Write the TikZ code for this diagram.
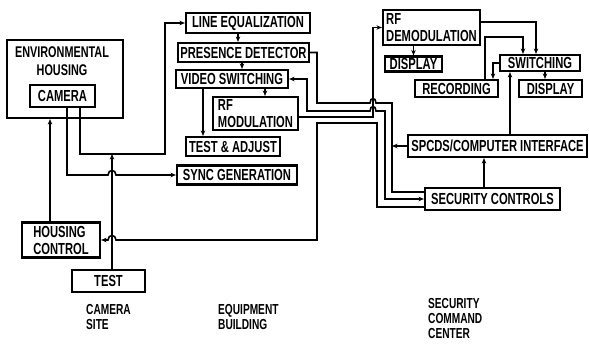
\documentclass[tikz,border=0pt]{standalone}
\usepackage{fontspec}
\setmainfont{Liberation Sans}[FakeStretch=0.7]
\usetikzlibrary{arrows.meta}
\begin{document}
\begin{tikzpicture}[x=1pt,y=-1pt,
  box/.style={draw, line width=2.2pt, inner sep=1pt, font=\bfseries\fontsize{16}{17}\selectfont},
  conn/.style={line width=1.6pt},
  arr/.style={conn, -{Stealth[length=5.5pt,width=4.5pt]}},
  darr/.style={conn, {Stealth[length=5.5pt,width=4.5pt]}-{Stealth[length=5.5pt,width=4.5pt]}},
  lbl/.style={font=\bfseries\fontsize{14.5}{15}\selectfont, align=left, inner sep=0pt, anchor=north west},
  ttl/.style={font=\bfseries\fontsize{15.5}{18}\selectfont, align=center, inner sep=0pt}
]
\useasboundingbox (0,0) rectangle (589,343);

% camera site
\node[box, minimum width=116pt, minimum height=78pt] (env) at (65,79) {};
\node[ttl] (envt) at (62,61) {ENVIRONMENTAL\\HOUSING};
\node[box, minimum width=65pt, minimum height=22pt] (cam) at (62.5,96) {CAMERA};
\node[box, minimum width=78pt, minimum height=35pt, align=left] (hc) at (61,240) {HOUSING\\CONTROL};
\node[box, minimum width=73pt, minimum height=22pt] (test) at (108.5,281) {TEST};

% equipment building
\node[box, minimum width=124pt, minimum height=20pt] (le) at (248,23) {LINE EQUALIZATION};
\node[box, minimum width=131pt, minimum height=19pt] (pd) at (243.5,52.5) {PRESENCE DETECTOR};
\node[box, minimum width=112pt, minimum height=18pt] (vs) at (232,79) {VIDEO SWITCHING};
\node[box, minimum width=85pt, minimum height=33pt, align=left] (rfm) at (255.5,113.5) {RF\\MODULATION};
\node[box, minimum width=94pt, minimum height=19pt] (ta) at (233,146.5) {TEST \& ADJUST};
\node[box, minimum width=120pt, minimum height=19pt] (sync) at (237,175) {SYNC GENERATION};

% security command center
\node[box, minimum width=97pt, minimum height=35pt, align=left] (rfd) at (431.5,27.5) {RF\\DEMODULATION};
\node[box, minimum width=57pt, minimum height=15pt] (d1) at (413.5,64) {DISPLAY};
\node[box, minimum width=80pt, minimum height=16pt] (sw) at (540,63) {SWITCHING};
\node[box, minimum width=83pt, minimum height=17pt] (rec) at (456.5,88.5) {RECORDING};
\node[box, minimum width=63pt, minimum height=17pt] (d2) at (550.5,88.5) {DISPLAY};
\node[box, minimum width=179pt, minimum height=22pt] (spc) at (497.5,146) {SPCDS/COMPUTER INTERFACE};
\node[box, minimum width=135pt, minimum height=22pt] (sec) at (492.5,199) {SECURITY CONTROLS};

% labels
\node[lbl] (cs) at (86,304) {CAMERA\\SITE};
\node[lbl] (eb) at (218,304) {EQUIPMENT\\BUILDING};
\node[lbl] (scc) at (428,298) {SECURITY\\COMMAND\\CENTER};

% camera site connectors
\coordinate (a1) at (165,154);
\coordinate (a2) at (112,154);
\draw[arr] ([xshift=17.5pt]cam.south) |- (a1) |- (le.west);
\draw[arr] ([xshift=4.5pt]cam.south) |- (108,175) .. controls (108,169) and (116,169) .. (116,175) -- (sync.west);
\draw[arr] ([xshift=3.5pt]test.north) -- (a2);
\draw[arr] ([xshift=-11pt]hc.north) -- ([xshift=-11pt]hc.north |- env.south);
\draw[arr] ([yshift=-8pt]sec.west) -| (377,123) -| (317,240) -- (116,240) .. controls (116,234) and (108,234) .. (108,240) -- (hc.east);

% equipment building internal
\draw[arr] ([xshift=-10pt]le.south) -- ([xshift=-10pt]le.south |- pd.north);
\draw[arr] ([xshift=-1.5pt]pd.south) -- ([xshift=-1.5pt]pd.south |- vs.north);
\draw[arr] ([xshift=9.5pt]rfm.north |- vs.south) -- ([xshift=9.5pt]rfm.north);
\draw[arr] ([xshift=-29pt]vs.south) -- ([xshift=-29pt]vs.south |- ta.north);

% trunk lines
\draw[conn] (pd.east) -| (317,103) -- (370,103) .. controls (370,97) and (376,97) .. (376,103) -- (392,103) |- ([yshift=7pt]sec.west);
\draw[darr] (sec.west) -| (385,111) -- (376,111) .. controls (376,105) and (370,105) .. (370,111) -- (307,111) |- (vs.east);
\draw[arr] ([yshift=-3.5pt]rfm.east) -| (373,60) |- (rfd.west);
\draw[arr] (spc.west) -- (392,146);

% command center internal
\draw[arr] (d1.north |- rfd.south) -- (d1.north);
\draw[arr] ([yshift=5.5pt]rfd.east) -| ([xshift=-4pt]sw.north);
\draw[arr] ([xshift=28.5pt]rec.north) |- (523,37) -- ([xshift=-17pt]sw.north);
\draw[arr] (sw.west) -| ([xshift=36.5pt]rec.north);
\draw[arr] ([xshift=5pt]sw.south) -- ([xshift=5pt]sw.south |- d2.north);
\draw[arr] ([xshift=12.5pt]spc.north) -- ([xshift=12.5pt]spc.north |- sw.south);
\draw[arr] ([xshift=-8.5pt]sec.north) -- ([xshift=-8.5pt]sec.north |- spc.south);
\end{tikzpicture}
\end{document}
